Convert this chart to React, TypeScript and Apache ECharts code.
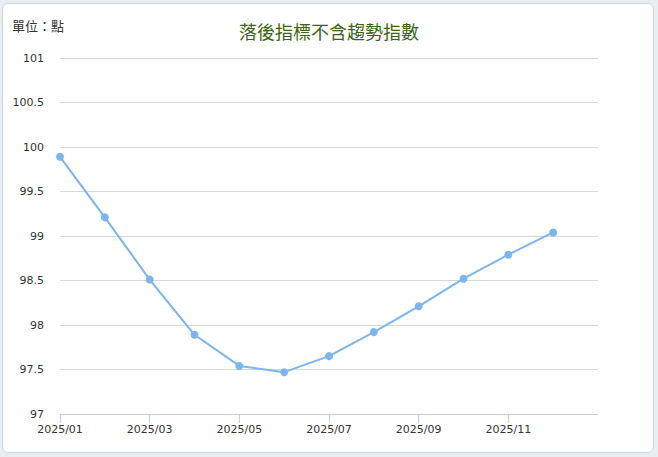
import { useEffect, useRef } from 'react'
import * as echarts from 'echarts'

// monthly values
const months = [
  '2025/01', '2025/02', '2025/03', '2025/04', '2025/05', '2025/06',
  '2025/07', '2025/08', '2025/09', '2025/10', '2025/11', '2025/12',
]
const lagging = [99.89, 99.21, 98.51, 97.89, 97.54, 97.47, 97.65, 97.92, 98.21, 98.52, 98.79, 99.04]
// axis runs one month past the data
const categories = [...months, '2026/01']

const title = '落後指標不含趨勢指數'
const unitLabel = '單位：點'

export default function App() {
  const ref = useRef<HTMLDivElement>(null)

  useEffect(() => {
    if (!ref.current) return
    const chart = echarts.init(ref.current, undefined, { renderer: 'svg' })

    const option: echarts.EChartsOption = {
      animation: false,
      title: {
        text: title,
        left: 'center',
        top: 17,
        textStyle: {
          fontSize: 18,
          fontWeight: 'normal',
          color: '#3a6413',
          fontFamily: '"Noto Sans CJK TC", sans-serif',
        },
      },
      graphic: [
        {
          type: 'text',
          left: 12,
          top: 19,
          style: {
            text: unitLabel,
            fontSize: 13,
            fill: '#333',
            fontFamily: '"Noto Sans CJK TC", sans-serif',
          },
        },
      ],
      grid: { left: 60, right: 60, top: 58, bottom: 43 },
      xAxis: {
        type: 'category',
        data: categories,
        boundaryGap: false,
        axisLine: { lineStyle: { color: '#c0d0e0', width: 1 } },
        axisTick: {
          show: true,
          length: 9,
          interval: (i: number) => i % 2 === 0 && i < 12,
          lineStyle: { color: '#c0d0e0' },
        },
        axisLabel: {
          interval: (i: number) => i % 2 === 0 && i < 12,
          color: '#333',
          fontSize: 11,
          fontFamily: '"DejaVu Sans", sans-serif',
          margin: 10,
        },
        splitLine: { show: false },
      },
      yAxis: {
        type: 'value',
        min: 97,
        max: 101,
        interval: 0.5,
        axisLine: { show: false },
        axisTick: { show: false },
        axisLabel: {
          color: '#333',
          fontSize: 11,
          fontFamily: '"DejaVu Sans", sans-serif',
          margin: 16,
        },
        splitLine: { lineStyle: { color: '#d8d8d8', width: 1 } },
      },
      series: [
        {
          type: 'line',
          data: lagging,
          symbol: 'circle',
          symbolSize: 8,
          lineStyle: { color: '#7cb5ec', width: 2 },
          itemStyle: { color: '#7cb5ec' },
        },
      ],
    }

    chart.setOption(option)
    return () => chart.dispose()
  }, [])

  return (
    <div style={{ position: 'fixed', inset: 0, background: '#e8eef1' }}>
      <div
        style={{
          position: 'absolute',
          left: 2,
          top: 3,
          width: 650,
          height: 448,
          background: '#fff',
          border: '1px solid #cfd6da',
          borderRadius: 6,
        }}
      />
      <div ref={ref} style={{ position: 'absolute', left: 0, top: 0, width: 658, height: 457 }} />
    </div>
  )
}
